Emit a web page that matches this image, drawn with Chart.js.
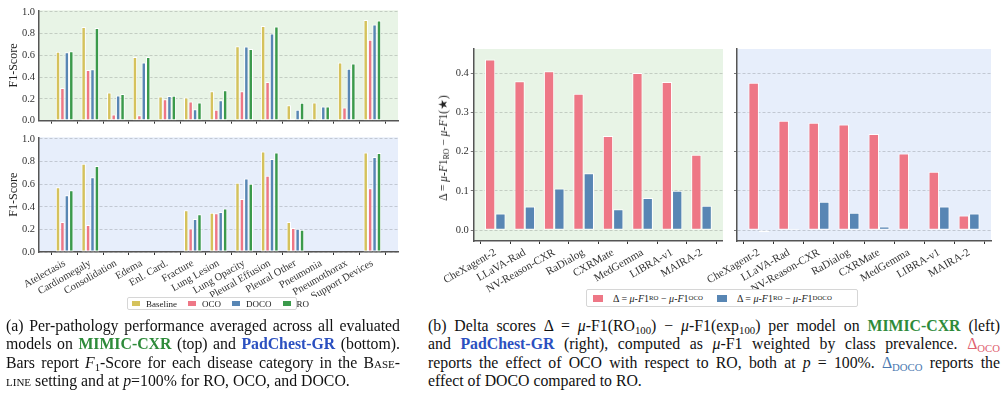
<!DOCTYPE html>
<html>
<head>
<meta charset="utf-8">
<script src="https://cdn.jsdelivr.net/npm/chart.js@4.4.0/dist/chart.umd.min.js"></script>
<style>
body { margin: 0; width: 1002px; height: 418px; overflow: hidden; background: #fff; font-family: "Liberation Serif", "Times New Roman", serif; color: #111; }
canvas { position: absolute; }
.cap { position: absolute; font-size: 15.8px; line-height: 18.3px; }
.cap .j { text-align: justify; text-align-last: justify; }
.cap sub, .leg sub, .ytitle sub { font-size: 0.68em; vertical-align: -0.25em; line-height: 0; }
.g { color: #2e8b3a; }
.bl { color: #2b50c0; }
.sc { font-variant: small-caps; }
.leg { position: absolute; border: 1px solid #d6d6d6; border-radius: 2px; background: #fff; font-size: 9px; color: #222; display: flex; align-items: center; }
.leg span.sw { display: inline-block; width: 8px; height: 5px; margin-right: 6px; }
.leg span.it { display: inline-flex; align-items: center; margin-right: 11px; white-space: pre; }
.ytitle { position: absolute; font-size: 11.5px; color: #222; white-space: pre; transform: translate(-50%, -50%) rotate(-90deg); }
</style>
</head>
<body>
<canvas id="mimicPath" width="402" height="131" style="left:0;top:0"></canvas>
<canvas id="padPath" width="402" height="170" style="left:0;top:127px"></canvas>
<canvas id="mimicDelta" width="283" height="266" style="left:440px;top:40px"></canvas>
<canvas id="padDelta" width="302" height="266" style="left:700px;top:40px"></canvas>

<div class="ytitle" style="left:443px;top:148px">&Delta; = <i>&mu;</i>-<i>F</i>1<sub>RO</sub> &minus; <i>&mu;</i>-<i>F</i>1(&#9733;)</div>

<div class="leg" style="left:127px;top:297px;width:170px;height:13px;padding-left:4px;box-sizing:border-box">
  <span class="it"><span class="sw" style="background:#d5c25c"></span>Baseline</span>
  <span class="it"><span class="sw" style="background:#ee7786"></span>OCO</span>
  <span class="it"><span class="sw" style="background:#5886b4"></span>DOCO</span>
  <span class="it" style="margin-right:0"><span class="sw" style="background:#3b9a4b"></span>RO</span>
</div>

<div class="leg" style="left:586px;top:289px;width:272px;height:18px;padding-left:6px;box-sizing:border-box;font-size:10px">
  <span class="it" style="margin-right:14px"><span class="sw" style="background:#ee7786;width:10px;height:7px;margin-right:10px"></span>&Delta; = <i>&mu;</i>-<i>F</i>1<sub>RO</sub> &minus; <i>&mu;</i>-<i>F</i>1<sub>OCO</sub></span>
  <span class="it" style="margin-right:0"><span class="sw" style="background:#5886b4;width:10px;height:7px;margin-right:10px"></span>&Delta; = <i>&mu;</i>-<i>F</i>1<sub>RO</sub> &minus; <i>&mu;</i>-<i>F</i>1<sub>DOCO</sub></span>
</div>

<div class="cap" style="left:6px;top:317px;width:394px">
  <div class="j">(a) Per-pathology performance averaged across all evaluated</div>
  <div class="j">models on <b class="g">MIMIC-CXR</b> (top) and <b class="bl">PadChest-GR</b> (bottom).</div>
  <div class="j">Bars report <i>F</i><sub>1</sub>-Score for each disease category in the B<span class="sc">ase</span>-</div>
  <div><span class="sc">line</span> setting and at <i>p</i>=100% for RO, OCO, and DOCO.</div>
</div>

<div class="cap" style="left:428px;top:317px;width:572px">
  <div class="j">(b) Delta scores &Delta; = <i>&mu;</i>-F1(RO<sub>100</sub>) &minus; <i>&mu;</i>-F1(exp<sub>100</sub>) per model on <b class="g">MIMIC-CXR</b> (left)</div>
  <div class="j">and <b class="bl">PadChest-GR</b> (right), computed as <i>&mu;</i>-F1 weighted by class prevalence. <span style="color:#e0606f">&Delta;<sub>OCO</sub></span></div>
  <div class="j">reports the effect of OCO with respect to RO, both at <i>p</i> = 100%. <span style="color:#4a78b0">&Delta;<sub>DOCO</sub></span> reports the</div>
  <div>effect of DOCO compared to RO.</div>
</div>

<script>
// per-pathology F1 (averaged over models)
const pathologies = ['Atelectasis', 'Cardiomegaly', 'Consolidation', 'Edema', 'Enl. Card.', 'Fracture', 'Lung Lesion',
  'Lung Opacity', 'Pleural Effusion', 'Pleural Other', 'Pneumonia', 'Pneumothorax', 'Support Devices'];
const mimicBaseline = [0.635, 0.862, 0.26, 0.585, 0.222, 0.213, 0.27, 0.685, 0.87, 0.143, 0.168, 0.536, 0.926];
const mimicOCO = [0.30, 0.467, 0.057, 0.05, 0.197, 0.177, 0.10, 0.271, 0.356, 0.02, 0.014, 0.122, 0.745];
const mimicDOCO = [0.63, 0.473, 0.231, 0.536, 0.228, 0.106, 0.188, 0.682, 0.802, 0.10, 0.131, 0.477, 0.884];
const mimicRO = [0.638, 0.853, 0.245, 0.585, 0.23, 0.168, 0.28, 0.66, 0.865, 0.166, 0.131, 0.527, 0.921];
const padBaseline = [0.573, 0.78, null, null, null, 0.37, 0.348, 0.612, 0.89, 0.265, null, null, 0.88];
const padOCO = [0.265, 0.24, null, null, null, 0.208, 0.343, 0.47, 0.675, 0.212, null, null, 0.565];
const padDOCO = [0.502, 0.662, null, null, null, 0.293, 0.355, 0.65, 0.822, 0.205, null, null, 0.84];
const padRO = [0.547, 0.76, null, null, null, 0.333, 0.385, 0.605, 0.88, 0.198, null, null, 0.875];

// delta mu-F1 per model
const models = ['CheXagent-2', 'LLaVA-Rad', 'NV-Reason-CXR', 'RaDialog', 'CXRMate', 'MedGemma', 'LIBRA-v1', 'MAIRA-2'];
const mimicDeltaOCO = [0.435, 0.38, 0.405, 0.348, 0.24, 0.401, 0.378, 0.192];
const mimicDeltaDOCO = [0.042, 0.06, 0.106, 0.145, 0.053, 0.082, 0.10, 0.062];
const padDeltaOCO = [0.376, 0.279, 0.274, 0.269, 0.245, 0.195, 0.149, 0.037];
const padDeltaDOCO = [-0.005, 0.003, 0.072, 0.044, 0.009, -0.001, 0.06, 0.042];

const f1Range = [0, 1.015];
const deltaRange = [-0.028, 0.462];

const YELLOW = '#d5c25c', PINK = '#ee7786', BLUE = '#5886b4', GREEN = '#3b9a4b';
const GREEN_BG = '#e8f4e6', BLUE_BG = '#e7eefb';
const FONT = "'Liberation Serif', 'Times New Roman', 'DejaVu Serif', serif";

Chart.register({
  id: 'plotBg',
  beforeDraw(chart, args, opts) {
    const a = chart.chartArea;
    chart.ctx.save();
    chart.ctx.fillStyle = opts.color;
    chart.ctx.fillRect(a.left, a.top, a.right - a.left, a.bottom - a.top);
    chart.ctx.restore();
  }
});

// matplotlib-like margin on a category axis (extra fraction of a slot on each side)
function catMargin(extra) {
  return function (s) { s._startValue -= extra; s._valueRange += 2 * extra; };
}

function bar(label, data, color) {
  return { label: label, data: data, backgroundColor: color, borderColor: '#fff', borderWidth: 1, borderSkipped: false };
}

function makeChart(id, labels, datasets, o) {
  return new Chart(document.getElementById(id).getContext('2d'), {
    type: 'bar',
    data: { labels: labels, datasets: datasets },
    options: {
      responsive: false,
      animation: false,
      devicePixelRatio: 1,
      layout: { padding: o.padding },
      datasets: { bar: { categoryPercentage: o.catPct, barPercentage: 1.0 } },
      plugins: { legend: { display: false }, tooltip: { enabled: false }, plotBg: { color: o.bg } },
      scales: {
        x: {
          afterBuildTicks: catMargin(o.margin),
          afterFit: (s) => { s.height = o.xHeight; },
          grid: { drawOnChartArea: false, drawTicks: true, tickLength: 3, color: '#333', lineWidth: 1 },
          border: { display: true, color: '#555', width: 1.5 },
          ticks: {
            display: o.xLabels, autoSkip: false, minRotation: 30, maxRotation: 30, padding: 2,
            color: '#333', font: { family: FONT, size: o.xFont }
          }
        },
        y: {
          min: o.range[0], max: o.range[1],
          afterFit: (s) => { s.width = o.yWidth; },
          grid: { color: 'rgba(0,0,0,0.2)', lineWidth: 0.8, drawTicks: o.yTickLen > 0, tickLength: o.yTickLen, tickColor: '#555' },
          border: { display: true, color: '#555', width: 1.5, dash: [3, 2] },
          ticks: {
            display: o.yLabels, stepSize: 0.1, includeBounds: false, padding: o.yPad,
            color: '#333', font: { family: FONT, size: 10.5 },
            callback: (v) => v.toFixed(1)
          },
          title: {
            display: !!o.yTitle, text: o.yTitle, color: '#222',
            font: { family: FONT, size: 12 }, padding: { top: 7, bottom: 0 }
          }
        }
      }
    }
  });
}

makeChart('mimicPath', pathologies, [
  bar('Baseline', mimicBaseline, YELLOW), bar('OCO', mimicOCO, PINK),
  bar('DOCO', mimicDOCO, BLUE), bar('RO', mimicRO, GREEN)
], { padding: { top: 7, right: 4 }, catPct: 0.69, bg: GREEN_BG, margin: 0.5, xHeight: 5, xLabels: false, xFont: 10,
     range: f1Range, yWidth: 39, yTickLen: 0, yPad: 4, yLabels: true, yTitle: 'F1-Score' });

makeChart('padPath', pathologies, [
  bar('Baseline', padBaseline, YELLOW), bar('OCO', padOCO, PINK),
  bar('DOCO', padDOCO, BLUE), bar('RO', padRO, GREEN)
], { padding: { top: 7, right: 4 }, catPct: 0.69, bg: BLUE_BG, margin: 0.5, xHeight: 45, xLabels: true, xFont: 10.5,
     range: f1Range, yWidth: 39, yTickLen: 0, yPad: 4, yLabels: true, yTitle: 'F1-Score' });

makeChart('mimicDelta', models, [
  bar('OCO', mimicDeltaOCO, PINK), bar('DOCO', mimicDeltaDOCO, BLUE)
], { padding: { top: 9, right: 0 }, catPct: 0.7, bg: GREEN_BG, margin: 0.23, xHeight: 65, xLabels: true, xFont: 11,
     range: deltaRange, yWidth: 29, yTickLen: 3, yPad: 2, yLabels: true, yTitle: '' });

makeChart('padDelta', models, [
  bar('OCO', padDeltaOCO, PINK), bar('DOCO', padDeltaDOCO, BLUE)
], { padding: { top: 9, right: 11 }, catPct: 0.7, bg: BLUE_BG, margin: 0.23, xHeight: 65, xLabels: true, xFont: 11,
     range: deltaRange, yWidth: 37, yTickLen: 3, yPad: 2, yLabels: false, yTitle: '' });
</script>
</body>
</html>
